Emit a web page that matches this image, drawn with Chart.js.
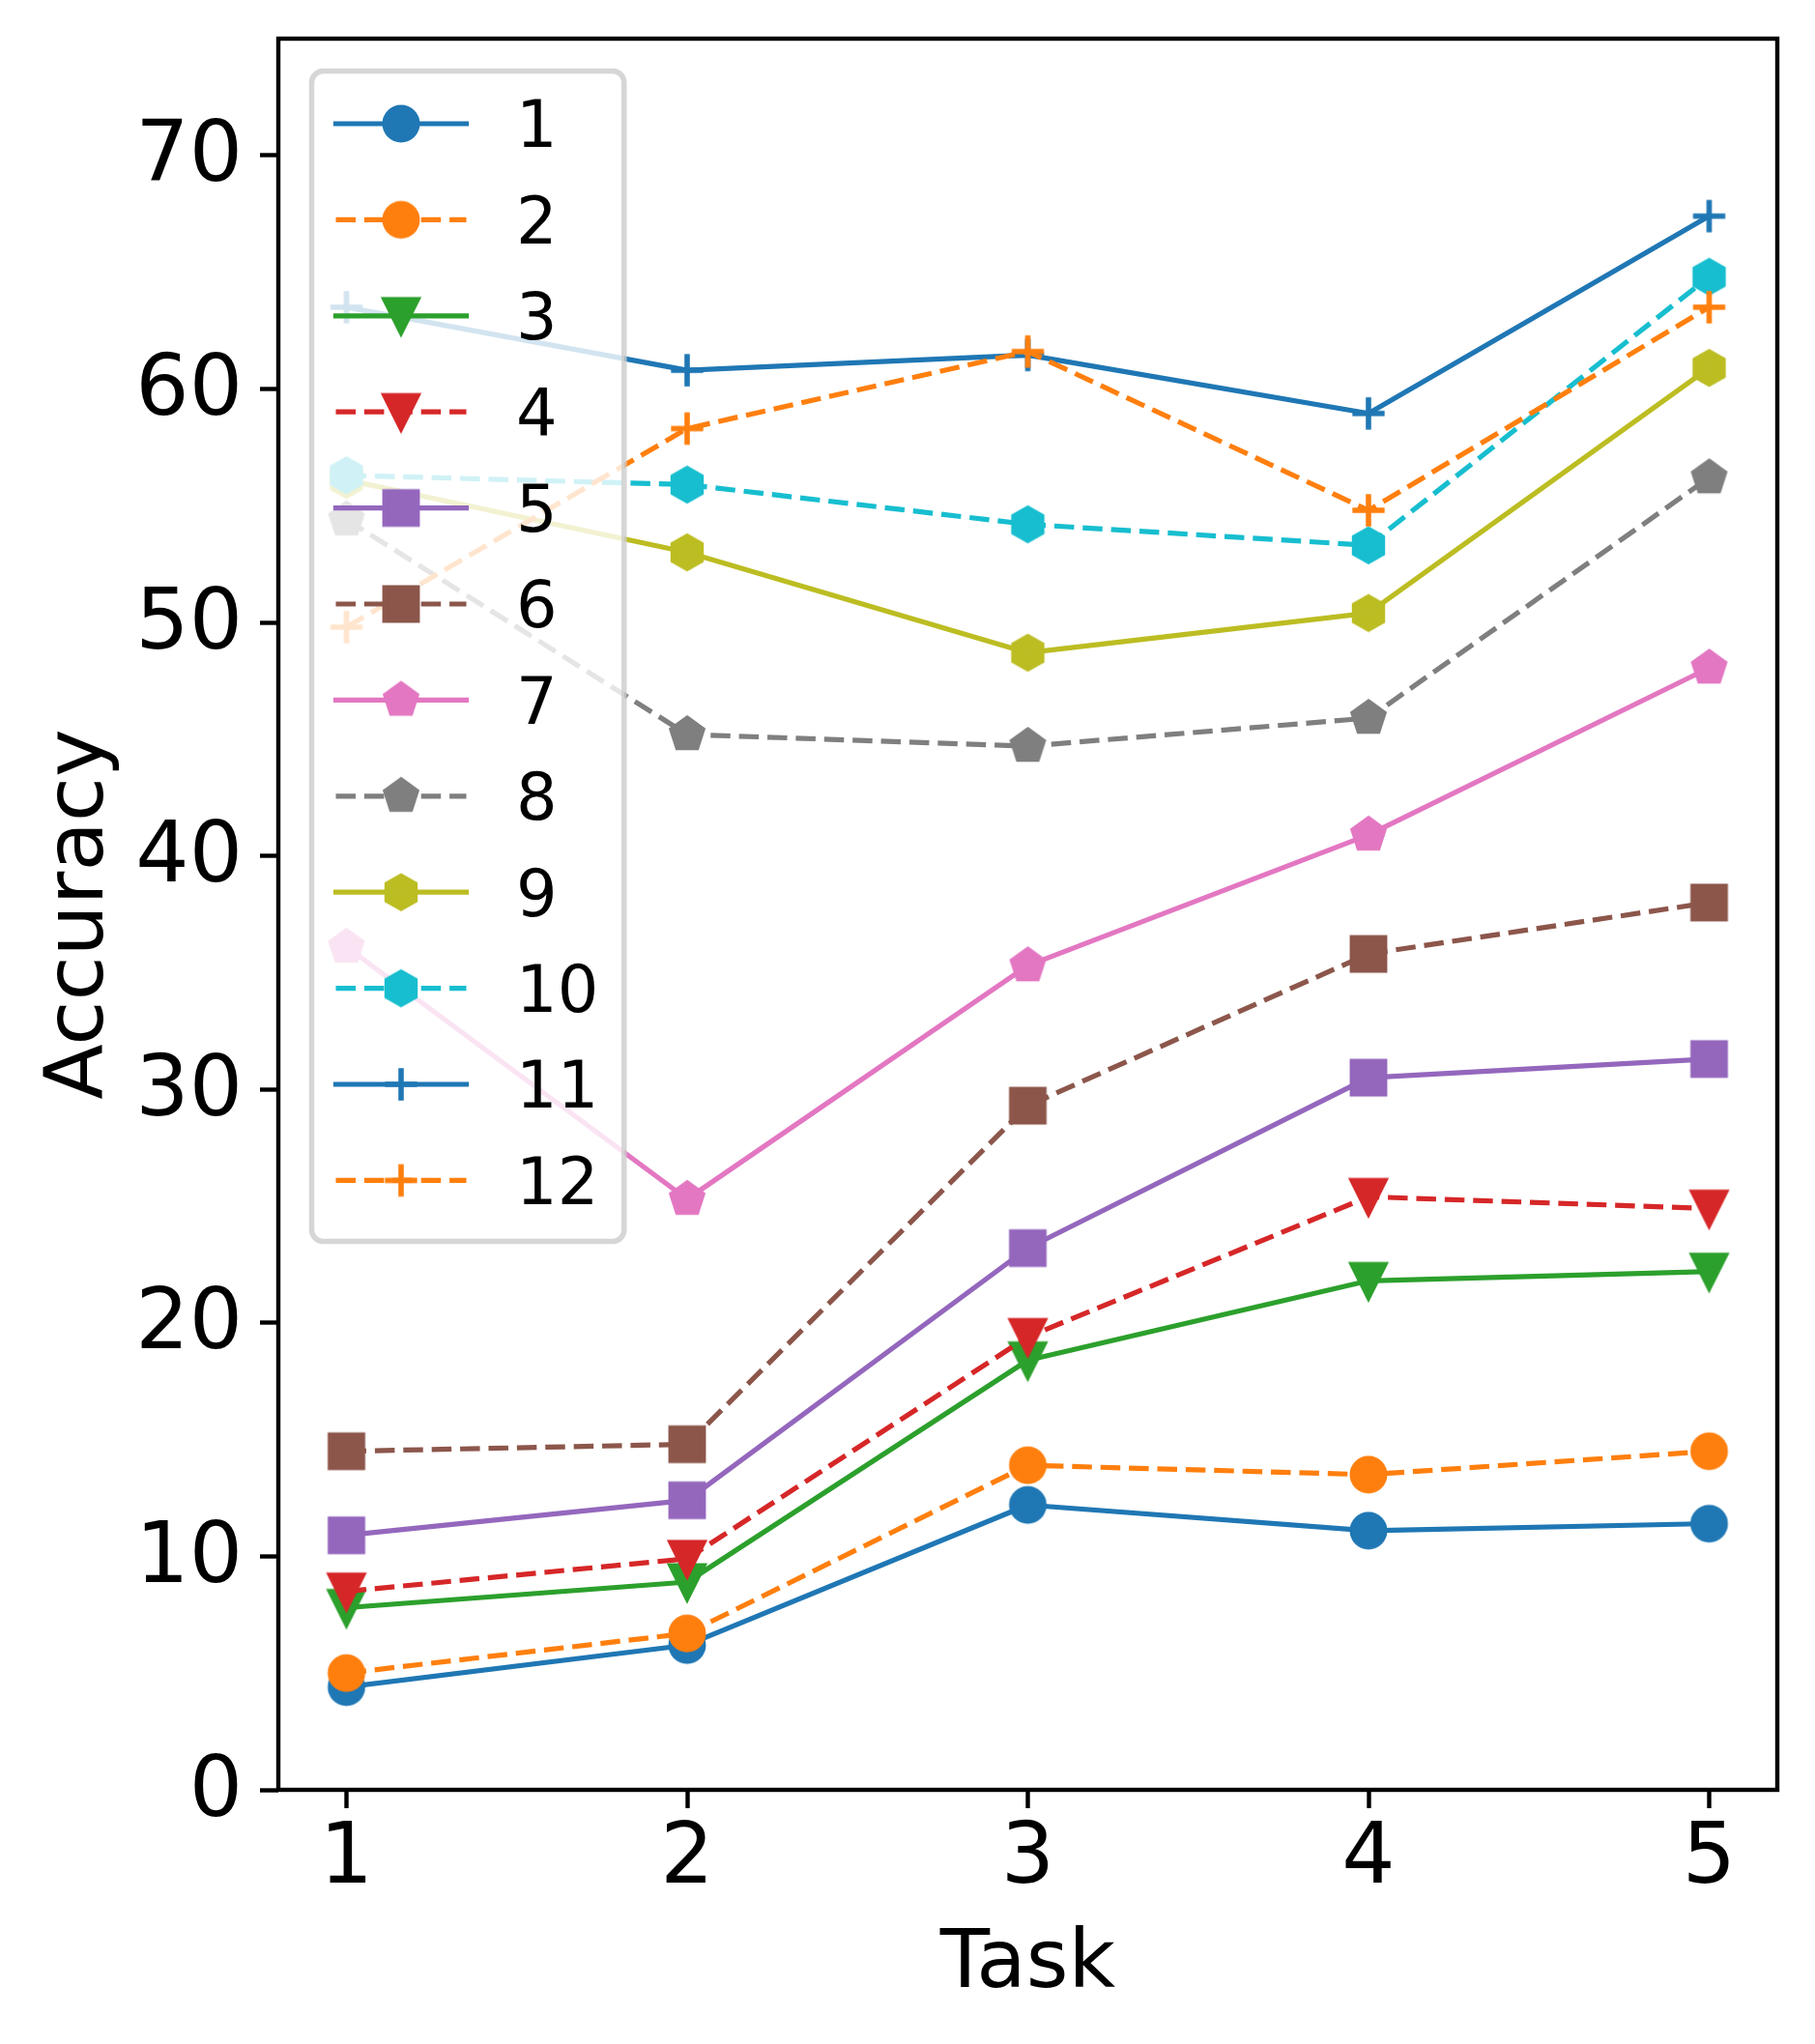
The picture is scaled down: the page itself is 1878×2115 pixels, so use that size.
<!DOCTYPE html>
<html>
<head>
<meta charset="utf-8">
<script src="https://cdn.jsdelivr.net/npm/chart.js@4.4.0/dist/chart.umd.min.js"></script>
<style>
html,body{margin:0;padding:0;background:#fff;}
canvas{display:block;}
</style>
</head>
<body>
<canvas id="c" width="1878" height="2115" style="width:1878px;height:2115px"></canvas>
<script>
// ---------------- data ----------------
const tasks = [1, 2, 3, 4, 5];
const seriesLabels = ['1','2','3','4','5','6','7','8','9','10','11','12'];
const s1  = [4.4, 6.2, 12.2, 11.1, 11.4];
const s2  = [5.0, 6.7, 13.9, 13.5, 14.5];
const s3  = [7.8, 8.9, 18.4, 21.8, 22.2];
const s4  = [8.5, 9.9, 19.4, 25.4, 24.9];
const s5  = [10.9, 12.4, 23.2, 30.5, 31.3];
const s6  = [14.5, 14.8, 29.3, 35.8, 38.0];
const s7  = [36.1, 25.3, 35.3, 40.9, 48.05];
const s8  = [54.4, 45.2, 44.7, 45.9, 56.2];
const s9  = [56.1, 53.0, 48.7, 50.4, 60.9];
const s10 = [56.3, 55.9, 54.2, 53.3, 64.8];
const s11 = [63.5, 60.8, 61.45, 58.95, 67.4];
const s12 = [49.8, 58.3, 61.6, 54.8, 63.5];
const seriesValues = [s1, s2, s3, s4, s5, s6, s7, s8, s9, s10, s11, s12];
const xTickValues = [1, 2, 3, 4, 5];
const yTickValues = [0, 10, 20, 30, 40, 50, 60, 70];

// ---------------- styles ----------------
const colors = ['#1f77b4','#ff7f0e','#2ca02c','#d62728','#9467bd','#8c564b',
                '#e377c2','#7f7f7f','#bcbd22','#17becf','#1f77b4','#ff7f0e'];
const shapes = ['circle','circle','tri','tri','square','square','pent','pent','hex','hex','plus','plus'];
const dashedFlags = [false,true,false,true,false,true,false,true,false,true,false,true];
const FONT = "'DejaVu Sans'";
const LW = 5.2;
const DASH = [20.5, 8.9];
const MS = 33.3, MEW = 5.56;

function makeMarker(shape, color) {
  const c = document.createElement('canvas');
  c.width = 64; c.height = 64;
  const g = c.getContext('2d');
  g.translate(32, 32);
  g.fillStyle = color; g.strokeStyle = color;
  g.lineWidth = MEW; g.lineJoin = 'miter'; g.miterLimit = 10;
  const h = MS / 2;
  g.beginPath();
  if (shape === 'circle') {
    g.arc(0, 0, h, 0, Math.PI * 2);
  } else if (shape === 'square') {
    g.rect(-h, -h, MS, MS);
  } else if (shape === 'tri') {
    g.moveTo(0, h); g.lineTo(-h, -h); g.lineTo(h, -h); g.closePath();
  } else if (shape === 'pent' || shape === 'hex') {
    const n = shape === 'pent' ? 5 : 6;
    for (let k = 0; k < n; k++) {
      const a = -Math.PI / 2 + k * 2 * Math.PI / n;
      const px = h * Math.cos(a), py = h * Math.sin(a);
      if (k === 0) g.moveTo(px, py); else g.lineTo(px, py);
    }
    g.closePath();
  }
  if (shape === 'plus') {
    g.lineCap = 'butt';
    g.moveTo(-h, 0); g.lineTo(h, 0);
    g.moveTo(0, -h); g.lineTo(0, h);
    g.stroke();
  } else {
    g.fill(); g.stroke();
  }
  return c;
}

const datasets = seriesLabels.map((lab, i) => ({
  label: lab,
  data: tasks.map((t, j) => ({ x: t, y: seriesValues[i][j] })),
  borderColor: colors[i],
  backgroundColor: colors[i],
  borderWidth: LW,
  borderDash: dashedFlags[i] ? DASH : [],
  borderCapStyle: dashedFlags[i] ? 'butt' : 'square',
  borderJoinStyle: 'round',
  pointStyle: makeMarker(shapes[i], colors[i]),
  pointRadius: 16,
  pointHoverRadius: 16,
  pointBorderWidth: 0,
  tension: 0,
  fill: false,
  order: seriesLabels.length - i
}));

function roundRectPath(ctx, x, y, w, h, r) {
  ctx.beginPath();
  ctx.moveTo(x + r, y);
  ctx.lineTo(x + w - r, y);
  ctx.arcTo(x + w, y, x + w, y + r, r);
  ctx.lineTo(x + w, y + h - r);
  ctx.arcTo(x + w, y + h, x + w - r, y + h, r);
  ctx.lineTo(x + r, y + h);
  ctx.arcTo(x, y + h, x, y + h - r, r);
  ctx.lineTo(x, y + r);
  ctx.arcTo(x, y, x + r, y, r);
  ctx.closePath();
}

const spinesPlugin = {
  id: 'spines',
  afterDatasetsDraw(chart) {
    const a = chart.chartArea, ctx = chart.ctx;
    ctx.save();
    ctx.lineWidth = 4.4;
    ctx.strokeStyle = '#000';
    ctx.lineJoin = 'miter';
    ctx.strokeRect(a.left, a.top, a.right - a.left, a.bottom - a.top);
    ctx.restore();
  }
};

const legendPlugin = {
  id: 'mplLegend',
  afterDraw(chart) {
    const ctx = chart.ctx;
    ctx.save();
    roundRectPath(ctx, 322.5, 73.5, 323.3, 1211, 12);
    ctx.fillStyle = 'rgba(255,255,255,0.8)';
    ctx.fill();
    ctx.lineWidth = 5.5;
    ctx.strokeStyle = 'rgba(204,204,204,0.8)';
    ctx.stroke();
    chart.data.datasets.forEach((ds, i) => {
      const y = 128 + i * 99.4;
      ctx.beginPath();
      ctx.setLineDash(ds.borderDash);
      ctx.lineDashOffset = 0;
      ctx.lineCap = ds.borderCapStyle;
      ctx.lineWidth = ds.borderWidth;
      ctx.strokeStyle = ds.borderColor;
      ctx.moveTo(347.5, y);
      ctx.lineTo(482.5, y);
      ctx.stroke();
      ctx.setLineDash([]);
      const img = ds.pointStyle;
      ctx.drawImage(img, 415 - img.width / 2, y - img.height / 2);
      ctx.fillStyle = '#000';
      ctx.font = "67px " + FONT;
      ctx.textBaseline = 'alphabetic';
      ctx.textAlign = 'left';
      ctx.fillText(ds.label, 534, y + 24.3);
    });
    ctx.restore();
  }
};

new Chart(document.getElementById('c'), {
  type: 'line',
  data: { datasets },
  plugins: [spinesPlugin, legendPlugin],
  options: {
    responsive: false,
    animation: false,
    devicePixelRatio: 1,
    layout: { padding: { top: 40, right: 39, left: 0, bottom: 0 } },
    plugins: { legend: { display: false }, tooltip: { enabled: false } },
    elements: { line: { tension: 0 } },
    scales: {
      x: {
        type: 'linear',
        min: 0.8,
        max: 5.2,
        afterBuildTicks: s => { s.ticks = xTickValues.map(v => ({ value: v })); },
        afterFit: s => { s.height = 263; s.paddingLeft = 0; s.paddingRight = 0; },
        grid: { display: true, drawOnChartArea: false, drawTicks: true, tickLength: 19, tickWidth: 4.4, tickColor: '#000' },
        border: { display: false },
        ticks: {
          font: { family: FONT, size: 87 },
          color: '#000',
          padding: 2.7,
          maxRotation: 0,
          autoSkip: false,
          callback: v => String(v)
        },
        title: {
          display: true, text: 'Task',
          font: { family: FONT, size: 84 }, color: '#000',
          padding: { top: 0, bottom: 30.6 }
        }
      },
      y: {
        type: 'linear',
        min: 0,
        max: 75,
        afterBuildTicks: s => { s.ticks = yTickValues.map(v => ({ value: v })); },
        afterFit: s => { s.width = 288; s.paddingTop = 0; s.paddingBottom = 0; },
        grid: { display: true, drawOnChartArea: false, drawTicks: true, tickLength: 19, tickWidth: 4.4, tickColor: '#000' },
        border: { display: false },
        ticks: {
          font: { family: FONT, size: 87 },
          color: '#000',
          padding: 18,
          labelOffset: 4,
          autoSkip: false,
          callback: v => String(v)
        },
        title: {
          display: true, text: 'Accuracy',
          font: { family: FONT, size: 84 }, color: '#000',
          padding: { top: 34, bottom: 0 }
        }
      }
    }
  }
});
</script>
</body>
</html>
